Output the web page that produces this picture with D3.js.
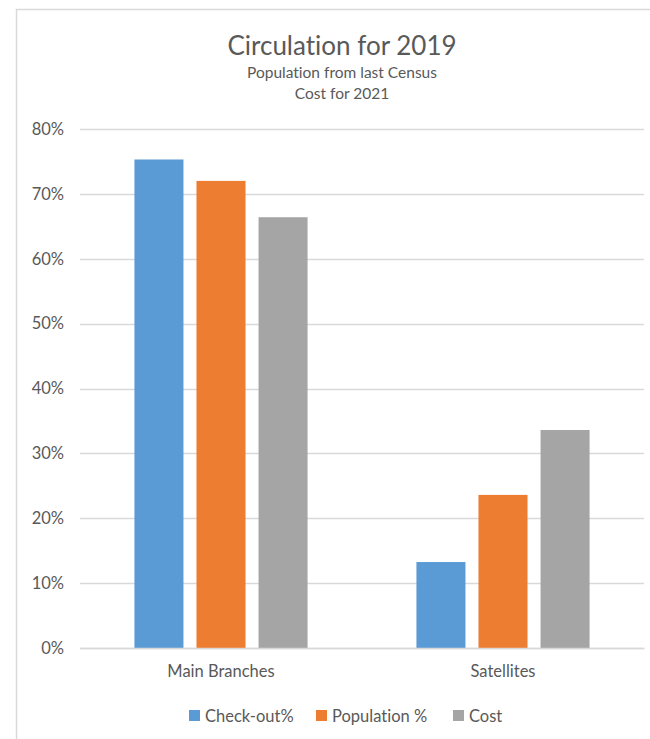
<!DOCTYPE html>
<html><head><meta charset="utf-8">
<script src="https://cdn.jsdelivr.net/npm/d3@7"></script>
<style>body{margin:0;background:#fff;} text{font-family:Lato,"Open Sans",sans-serif;font-variant-ligatures:none;}</style>
</head><body>
<svg id="c" width="650" height="739"></svg>
<script>
const categories = ["Main Branches", "Satellites"];
const seriesNames = ["Check-out%", "Population %", "Cost"];
const checkout = [0.753, 0.1325];
const population = [0.72, 0.236];
const cost = [0.664, 0.336];
const yTicks = [0, 0.1, 0.2, 0.3, 0.4, 0.5, 0.6, 0.7, 0.8];
const colors = ["#5b9bd5", "#ed7d31", "#a5a5a5"];
const series = [checkout, population, cost];

(function(){
const FONT = "Lato,'Open Sans',sans-serif";
const svg = d3.select("#c");
// chart border
svg.append("rect").attr("x",16.5).attr("y",9.5).attr("width",700).attr("height",800)
  .attr("fill","#fff").attr("stroke","#d9d9d9").attr("stroke-width",1.5);

const pLeft = 80, pRight = 644, pTop = 129, pBottom = 648;
const y = d3.scaleLinear().domain([0,0.8]).range([pBottom, pTop]);
const x0 = d3.scaleBand().domain(categories).range([pLeft, pRight]).paddingInner(0.386).paddingOuter(0.193);
const x1 = d3.scaleBand().domain(seriesNames).range([0, x0.bandwidth()]).paddingInner(0.21);

// grid
svg.append("g").selectAll("line").data(yTicks).join("line")
  .attr("x1", pLeft).attr("x2", pRight)
  .attr("y1", d=>Math.round(y(d))+0.5).attr("y2", d=>Math.round(y(d))+0.5)
  .attr("stroke","#d9d9d9").attr("stroke-width",1.3);

// y axis labels
const yAxis = d3.axisLeft(y).tickValues(yTicks).tickFormat(d3.format(".0%")).tickSize(0).tickPadding(16);
const ya = svg.append("g").attr("transform",`translate(${pLeft},0)`).call(yAxis);
ya.select(".domain").remove();
ya.selectAll("text").attr("fill","#595959").style("font-size","16.5px").style("font-family",FONT);

// bars
const g = svg.append("g");
series.forEach((vals, si) => {
  g.selectAll(null).data(categories).join("rect")
    .attr("x", c => x0(c) + x1(seriesNames[si]))
    .attr("y", (c,i) => y(vals[i]))
    .attr("width", x1.bandwidth())
    .attr("height", (c,i) => y(0) - y(vals[i]))
    .attr("fill", colors[si]);
});

// x axis labels
const xAxis = d3.axisBottom(x0).tickSize(0).tickPadding(17);
const xa = svg.append("g").attr("transform",`translate(0,${pBottom})`).call(xAxis);
xa.select(".domain").attr("stroke","#d9d9d9").attr("stroke-width",1.3);
xa.selectAll("text").attr("fill","#595959").style("font-size","16.5px").style("font-family",FONT);

// titles
svg.append("text").attr("x",342).attr("y",55).attr("text-anchor","middle")
  .attr("fill","#595959").style("font-size","26px").text("Circulation for 2019");
svg.append("text").attr("x",342).attr("y",78).attr("text-anchor","middle")
  .attr("fill","#595959").style("font-size","15.5px").text("Population from last Census");
svg.append("text").attr("x",342).attr("y",99).attr("text-anchor","middle")
  .attr("fill","#595959").style("font-size","15.5px").text("Cost for 2021");

// legend
const legendX = [189, 316, 453];
const lg = svg.append("g");
seriesNames.forEach((n,i) => {
  lg.append("rect").attr("x",legendX[i]).attr("y",710).attr("width",11).attr("height",11).attr("fill",colors[i]);
  lg.append("text").attr("x",legendX[i]+16).attr("y",722).attr("fill","#595959").style("font-size","16.5px").text(n);
});
})();
</script>
</body></html>
